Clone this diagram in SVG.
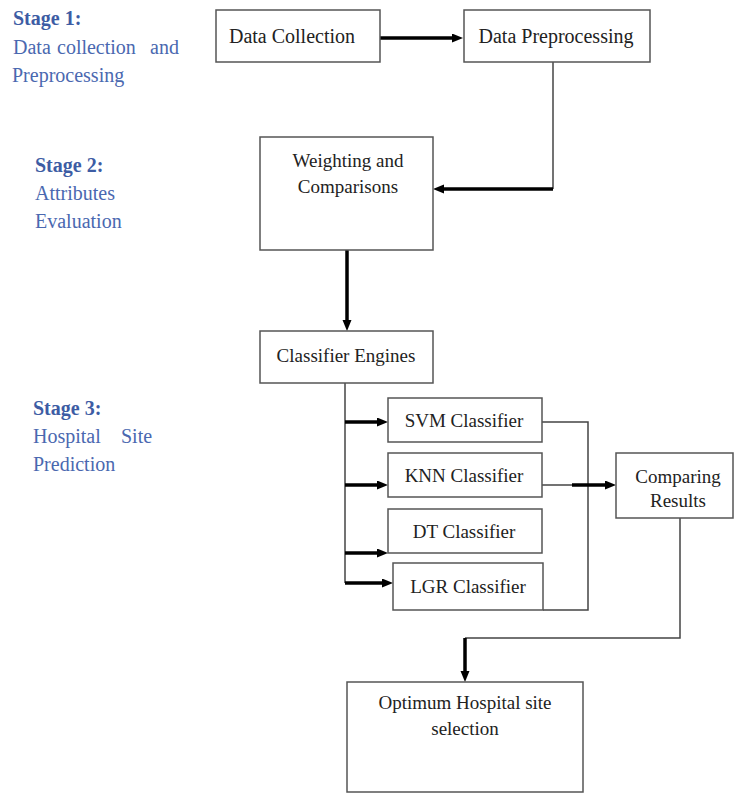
<svg xmlns="http://www.w3.org/2000/svg" width="734" height="794" viewBox="0 0 734 794">
<style>
.box{fill:#fff;stroke:#555;stroke-width:1.5}
.lbl{font-family:"Liberation Serif","Times New Roman",serif;font-size:19px;fill:#222;text-anchor:middle}
.big{font-size:20px}
.stg{font-family:"Liberation Serif","Times New Roman",serif;font-size:20px;fill:#4a68b0}
.stb{font-weight:bold;fill:#3d5ca4}
.thin{fill:none;stroke:#444;stroke-width:1.5}
.thick{fill:none;stroke:#000;stroke-width:3.5;marker-end:url(#ah)}
.thickn{fill:none;stroke:#000;stroke-width:3.5}
</style>
<defs>
<marker id="ah" markerUnits="userSpaceOnUse" markerWidth="12" markerHeight="10" refX="1" refY="4.5" orient="auto">
<path d="M0,0 L11,4.5 L0,9 z" fill="#000"/>
</marker>
</defs>
<rect width="734" height="794" fill="#fff"/>

<g id="stage1">
<text class="stg stb" x="13" y="25">Stage 1:</text>
<text class="stg" y="54"><tspan x="13">Data</tspan><tspan x="57">collection</tspan><tspan x="150">and</tspan></text>
<text class="stg" x="12" y="82">Preprocessing</text>
</g>
<g id="stage2">
<text class="stg stb" x="35" y="172">Stage 2:</text>
<text class="stg" x="35" y="200">Attributes</text>
<text class="stg" x="35" y="228">Evaluation</text>
</g>
<g id="stage3">
<text class="stg stb" x="33" y="415">Stage 3:</text>
<text class="stg" y="443"><tspan x="33">Hospital</tspan><tspan x="121">Site</tspan></text>
<text class="stg" x="33" y="471">Prediction</text>
</g>

<g id="connectors">
<path class="thick" d="M380,38 H453"/>
<path class="thin" d="M553,62 V189"/>
<path class="thick" d="M553,189 H443"/>
<path class="thick" d="M347,250 V321"/>
<path class="thin" d="M345,383 V583"/>
<path class="thick" d="M345,422 H378"/>
<path class="thick" d="M345,485 H378"/>
<path class="thick" d="M345,553 H378"/>
<path class="thick" d="M345,583 H383"/>
<path class="thin" d="M542,422 H588 V610 H543"/>
<path class="thin" d="M542,485 H572"/>
<path class="thick" d="M572,485 H606"/>
<path class="thin" d="M680,518 V638 H465"/>
<path class="thick" d="M465,638 V672"/>
</g>

<g id="data-collection">
<rect class="box" x="216" y="10" width="164" height="52"/>
<text class="lbl big" x="292" y="43">Data Collection</text>
</g>
<g id="data-preprocessing">
<rect class="box" x="464" y="10" width="186" height="52"/>
<text class="lbl big" x="556" y="43">Data Preprocessing</text>
</g>
<g id="weighting">
<rect class="box" x="260" y="137" width="173" height="113"/>
<text class="lbl" x="348" y="167">Weighting and</text>
<text class="lbl" x="348" y="193">Comparisons</text>
</g>
<g id="classifier-engines">
<rect class="box" x="260" y="331" width="173" height="52"/>
<text class="lbl" x="346" y="362">Classifier Engines</text>
</g>
<g id="svm">
<rect class="box" x="388" y="398" width="154" height="44"/>
<text class="lbl" x="464" y="427">SVM Classifier</text>
</g>
<g id="knn">
<rect class="box" x="388" y="453" width="154" height="44"/>
<text class="lbl" x="464" y="482">KNN Classifier</text>
</g>
<g id="dt">
<rect class="box" x="388" y="509" width="154" height="44"/>
<text class="lbl" x="464" y="538">DT Classifier</text>
</g>
<g id="lgr">
<rect class="box" x="393" y="563" width="150" height="47"/>
<text class="lbl" x="468" y="593">LGR Classifier</text>
</g>
<g id="comparing">
<rect class="box" x="616" y="453" width="117" height="65"/>
<text class="lbl" x="678" y="483">Comparing</text>
<text class="lbl" x="678" y="507">Results</text>
</g>
<g id="optimum">
<rect class="box" x="347" y="682" width="236" height="110"/>
<text class="lbl" x="465" y="709">Optimum Hospital site</text>
<text class="lbl" x="465" y="735">selection</text>
</g>
</svg>
